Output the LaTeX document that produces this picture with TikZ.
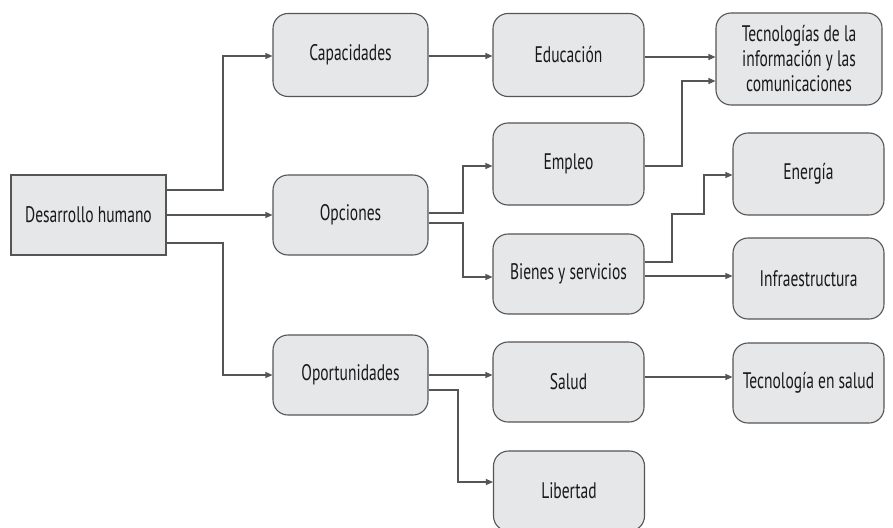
\documentclass[tikz,border=0pt]{standalone}
\usepackage{fontspec}
\setmainfont{PT Sans}[FakeStretch=0.69]
\usetikzlibrary{arrows.meta}
\definecolor{cajagris}{HTML}{E6E7E8}
\definecolor{bordegris}{HTML}{555555}
\tikzset{
  caja/.style={draw=bordegris, fill=cajagris, line width=1.1pt, rounded corners=15pt,
    minimum width=151pt, minimum height=80pt, align=center, inner sep=2pt,
    font=\fontsize{22.5}{25}\selectfont, text=black!90},
  raiz/.style={caja, rounded corners=0pt, minimum width=155pt},
  flecha/.style={draw=bordegris, line width=1.1pt, -{Triangle[length=7pt,width=6pt]}},
  linea/.style={draw=bordegris, line width=1.1pt}
}
\begin{document}
\begin{tikzpicture}[x=1pt,y=-1pt]
			\useasboundingbox (0,0) rectangle (893,527);
			% Nodos
			\node[raiz] (dh) at (88.5,215) {Desarrollo humano};
	
			\node[caja, minimum width=155pt, minimum height=83pt] (cap) at (350.5,55) {Capacidades};
			\node[caja, minimum width=155pt] (opc) at (350.5,215) {Opciones};
			\node[caja, minimum width=155pt] (opo) at (350.5,375) {Oportunidades};
	
			\node[caja, minimum height=83pt] (edu) at (568.5,55) {Educación};
			\node[caja, minimum height=82pt] (emp) at (568.5,164) {Empleo};
			\node[caja] (bie) at (568.5,274) {Bienes y servicios};
			\node[caja] (sal) at (568.5,382) {Salud};
			\node[caja] (lib) at (569,491) {Libertad};
			
			\node[caja, minimum width=166pt, minimum height=92pt] (tic) at (799,59) {Tecnologías de la\\información y las\\comunicaciones};
			\node[caja, minimum height=82pt] (ene) at (808.5,174) {Energía};
			\node[caja, minimum height=81pt] (inf) at (808.5,278.5) {Infraestructura};
			\node[caja] (tsa) at (808.5,383) {Tecnología en salud};
			
			% Conexiones
			\draw[flecha] (dh.east |- 0,190) -| (223,56) -- (cap.west |- 0,56);
			\draw[flecha] (dh.east) -- (opc.west);
			\draw[flecha] (dh.east |- 0,243) -| (223,375) -- (opo.west |- 0,375);
			
			\draw[flecha] (cap.east |- 0,56) -- (edu.west |- 0,56);
			\draw[flecha] (edu.east |- 0,57) -- (tic.west |- 0,57);
			
			\draw[flecha] (opc.east |- 0,213) -| (463,166) -- (emp.west |- 0,166);
			\draw[flecha] (opc.east |- 0,223) -| (463,277) -- (bie.west |- 0,277);
			\draw[flecha] (emp.east |- 0,166) -| (682,81) -- (tic.west |- 0,81);
			
			\draw[flecha] (bie.east |- 0,262) -| (672,214) -| (704,175) -- (ene.west |- 0,175);
			\draw[flecha] (bie.east |- 0,276) -- (inf.west |- 0,276);
			
			\draw[flecha] (opo.east |- 0,375) -- (sal.west |- 0,375);
			\draw[flecha] (opo.east |- 0,390) -| (458,482) -- (lib.west |- 0,482);
			\draw[flecha] (sal.east |- 0,377) -- (tsa.west |- 0,377);

		\end{tikzpicture}
\end{document}
